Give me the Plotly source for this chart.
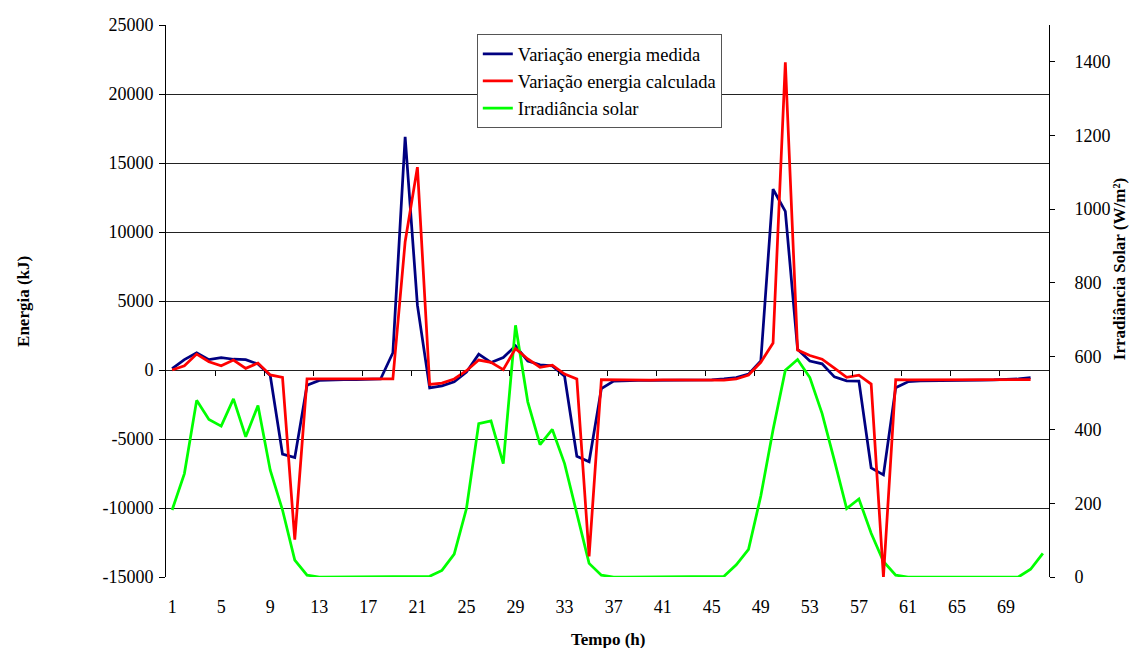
import plotly.graph_objects as go

# ---- data ----
horas = list(range(1, 73))
energia_medida = [100, 750, 1250, 750, 900, 780, 750, 430, -400, -6100,
                  -6350, -1100, -750, -700, -700, -700, -700, -650, 1250, 16900,
                  4700, -1300, -1150, -850, -150, 1150, 550, 900, 1750, 650,
                  380, 300, -450, -6250, -6650, -1350, -800, -750, -750, -750,
                  -750, -750, -750, -750, -720, -650, -550, -300, 650, 13100,
                  11500, 1500, 650, 450, -500, -780, -800, -7100, -7600, -1280,
                  -850, -780, -760, -750, -750, -740, -730, -720, -700, -650,
                  -560]
energia_calculada = [0, 300, 1150, 600, 300, 720, 120, 500, -360, -530,
                     -12300, -650, -650, -650, -650, -650, -650, -650, -650, 9300,
                     14700, -1050, -950, -650, -50, 720, 550, 30, 1550, 800,
                     200, 350, -290, -650, -13500, -700, -720, -720, -760, -730,
                     -720, -720, -740, -760, -770, -740, -650, -360, 560, 1950,
                     22300, 1450, 1050, 780, 130, -530, -370, -1020, -15000, -700,
                     -720, -720, -720, -720, -700, -720, -720, -710, -700, -700,
                     -700]
irradiancia = [182, 281, 480, 428, 410, 484, 381, 466, 290, 182,
               46, 5, 0, 0, 0, 0, 0, 0, 0, 0,
               0, 2, 18, 62, 186, 417, 424, 308, 684, 476,
               360, 401, 308, 173, 37, 5, 0, 0, 0, 0,
               0, 0, 0, 0, 0, 2, 33, 75, 220, 400,
               562, 591, 542, 444, 317, 186, 212, 119, 42, 5,
               0, 0, 0, 0, 0, 0, 0, 0, 0, 0,
               21, 64]

x_tick_vals = list(range(1, 70, 4))
x_tick_marks = [4.5 + 4 * k for k in range(17)]
y_tick_vals = [-15000, -10000, -5000, 0, 5000, 10000, 15000, 20000, 25000]
y_tick_text = ["-15000", "-10000", "-5000", "0", "5000", "10000", "15000", "20000", "25000"]
y2_tick_vals = [0, 200, 400, 600, 800, 1000, 1200, 1400]

FONT = "Liberation Serif"
n = len(energia_medida)

fig = go.Figure()
fig.add_trace(go.Scatter(x=horas[:n], y=energia_medida, name="Variação energia medida",
                         mode="lines", line=dict(color="#000080", width=2.75),
                         xaxis="x", yaxis="y"))
fig.add_trace(go.Scatter(x=horas[:len(energia_calculada)], y=energia_calculada,
                         name="Variação energia calculada",
                         mode="lines", line=dict(color="#FF0000", width=2.75),
                         xaxis="x2", yaxis="y"))
fig.add_trace(go.Scatter(x=horas, y=irradiancia, name="Irradiância solar",
                         mode="lines", line=dict(color="#00FF00", width=2.75),
                         xaxis="x", yaxis="y2"))

fig.update_layout(
    width=1132, height=648,
    margin=dict(l=166, r=83, t=25, b=71),
    paper_bgcolor="white", plot_bgcolor="white",
    font=dict(family=FONT, size=18, color="black"),
    showlegend=True,
    legend=dict(x=0.352, y=0.983, xanchor="left", yanchor="top",
                bgcolor="white", bordercolor="#555555", borderwidth=1,
                font=dict(family=FONT, size=18.5, color="black"),
                tracegroupgap=0, itemwidth=30),
    xaxis=dict(range=[0.5, 72.5], tickmode="array", tickvals=x_tick_vals,
               ticks="", showline=False, showgrid=False, zeroline=False,
               tickfont=dict(family=FONT, size=18), ticklabelstandoff=17),
    xaxis2=dict(range=[0.5, 72.5], overlaying="x", anchor="free", position=0.375,
                side="bottom", tickmode="array", tickvals=x_tick_marks,
                ticks="outside", ticklen=5, tickcolor="black", tickwidth=1,
                showticklabels=False, showline=False, showgrid=False, zeroline=False),
    yaxis=dict(range=[-15000, 25000], tickmode="array", tickvals=y_tick_vals,
               ticktext=y_tick_text, ticks="outside", ticklen=6, tickcolor="black",
               showline=True, linecolor="black", linewidth=1,
               showgrid=True, gridcolor="#222222", gridwidth=1, zeroline=False,
               tickfont=dict(family=FONT, size=18), ticklabelstandoff=2),
    yaxis2=dict(range=[0, 1500], overlaying="y", side="right", anchor="x",
                tickmode="array", tickvals=y2_tick_vals,
                ticks="outside", ticklen=5, tickcolor="black",
                showline=True, linecolor="black", linewidth=1,
                showgrid=False, zeroline=False,
                tickfont=dict(family=FONT, size=18), ticklabelstandoff=16),
    yaxis3=dict(range=[0, 1500], overlaying="y", side="right", anchor="x",
                tickmode="array", tickvals=y2_tick_vals,
                ticks="inside", ticklen=5, tickcolor="black",
                showline=False, showgrid=False, zeroline=False,
                showticklabels=False),
    annotations=[
        dict(text="<b>Energia (kJ)</b>", xref="paper", yref="paper",
             x=-0.162, y=0.5, textangle=-90, showarrow=False,
             font=dict(family=FONT, size=17), xanchor="center", yanchor="middle"),
        dict(text="<b>Irradiância Solar (W/m²)</b>", xref="paper", yref="paper",
             x=1.08, y=0.557, textangle=-90, showarrow=False,
             font=dict(family=FONT, size=17), xanchor="center", yanchor="middle"),
        dict(text="<b>Tempo (h)</b>", xref="paper", yref="paper",
             x=0.5, y=-0.114, showarrow=False,
             font=dict(family=FONT, size=17), xanchor="center", yanchor="middle"),
    ],
)

fig.write_html("out.html", config={"displayModeBar": False},
               post_script="document.body.style.margin='0';document.body.style.overflow='hidden';")
